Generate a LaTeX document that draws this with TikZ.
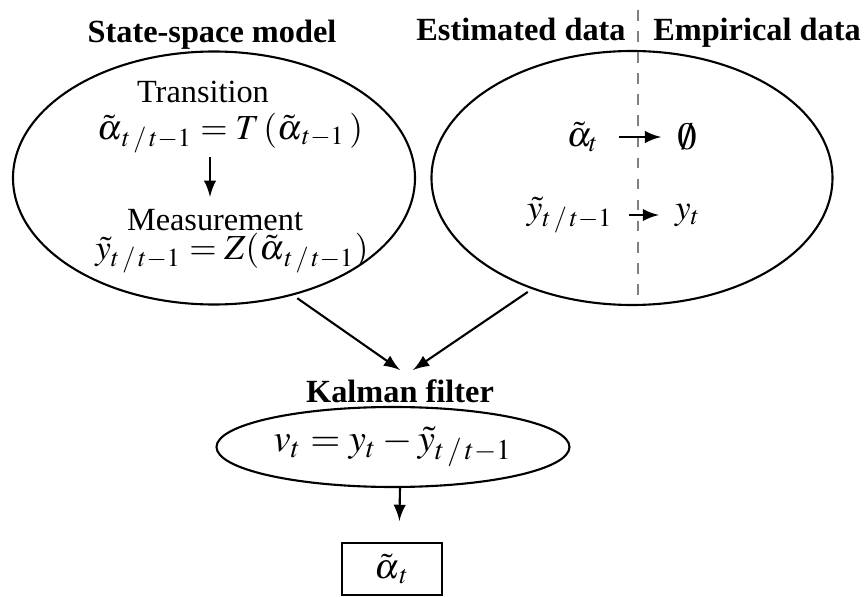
\documentclass[tikz,border=0pt]{standalone}
\usepackage{mathptmx}
\usepackage{fontspec}
\setmainfont{Liberation Serif}
\usetikzlibrary{arrows,positioning,shapes}

\begin{document}
\begin{tikzpicture}[
        x=0.1mm, y=-0.1mm,
        font=\fontsize{9.2}{11}\selectfont,
        model/.style={ellipse, draw, line width=0.6pt, inner sep=0pt},
        heading/.style={font=\fontsize{9.2}{11}\selectfont\bfseries, text height=1.6ex, text depth=0.4ex},
        eqn/.style={font=\fontsize{10}{12}\selectfont, inner sep=1pt},
        arrow/.style={-latex, line width=0.6pt}
    ]
        \useasboundingbox (0,0) rectangle (864,597);

        % Headings
        \node[heading] (ssm) at (212,33) {State-space model};
        \node[heading] (estd) at (521,31) {Estimated data};
        \node[heading] (empd) at (757,31) {Empirical data};

        % Outer ellipses
        \node[model, minimum width=40.2mm, minimum height=25.3mm] (left) at (214,178) {};
        \node[model, minimum width=40.1mm, minimum height=25.4mm] (right) at (632,178) {};

        % Divider
        \draw[gray, dashed, line width=0.5pt] (638,10) -- (638,305);

        % State-space model
        \node (trans) at (203,92) {Transition};
        \node[eqn] (teq) at (230,133) {$\tilde\alpha_{\,t\,/\,t-1} = T\,(\tilde\alpha_{\,t-1}\,)$};
        \node (meas) at (215,220) {Measurement};
        \node[eqn] (meq) at (232,253) {$\tilde y_{t\,/\,t-1} = Z(\tilde\alpha_{\,t\,/\,t-1})$};
        \draw[arrow] ([xshift=-2mm]teq.south) -- ([xshift=-2mm]teq.south |- meas.north);

        % Estimated / empirical
        \node[eqn] (at) at (583,137) {$\tilde\alpha_t$};
        \node[eqn, font=\fontsize{11}{13}\selectfont] (empty) at (687,137) {$\emptyset$};
        \node[eqn] (yt1) at (570,215) {$\tilde y_{t\,/\,t-1}$};
        \node[eqn] (yt) at (688,215) {$y_t$};
        \draw[arrow, shorten <=1.6mm, shorten >=1.2mm] (at) -- (empty);
        \draw[arrow, shorten <=1.2mm, shorten >=1.2mm] (yt1) -- (yt);

        % Kalman filter
        \coordinate (kin1) at (400,370);
        \coordinate (kin2) at (413,370);
        \draw[arrow, shorten <=0.5mm] (left.-56) -- (kin1);
        \draw[arrow, shorten <=0.5mm] (right.-132) -- (kin2);
        \node[heading] (kf) at (400,393) {Kalman filter};
        \node[model, eqn, font=\fontsize{11}{13}\selectfont, inner sep=0pt, minimum width=35.3mm, minimum height=8mm] (innov) at (393,447) {$v_t = y_t - \tilde y_{t\,/\,t-1}$};
        \node[draw, eqn, line width=0.6pt, minimum width=10mm, minimum height=5.2mm] (alpha) at (392,569) {$\tilde\alpha_{\,t}$};
        \draw[arrow, shorten >=2.1mm] ([xshift=0.7mm]innov.south) -- ([xshift=0.7mm]alpha.north);
    \end{tikzpicture}
\end{document}
